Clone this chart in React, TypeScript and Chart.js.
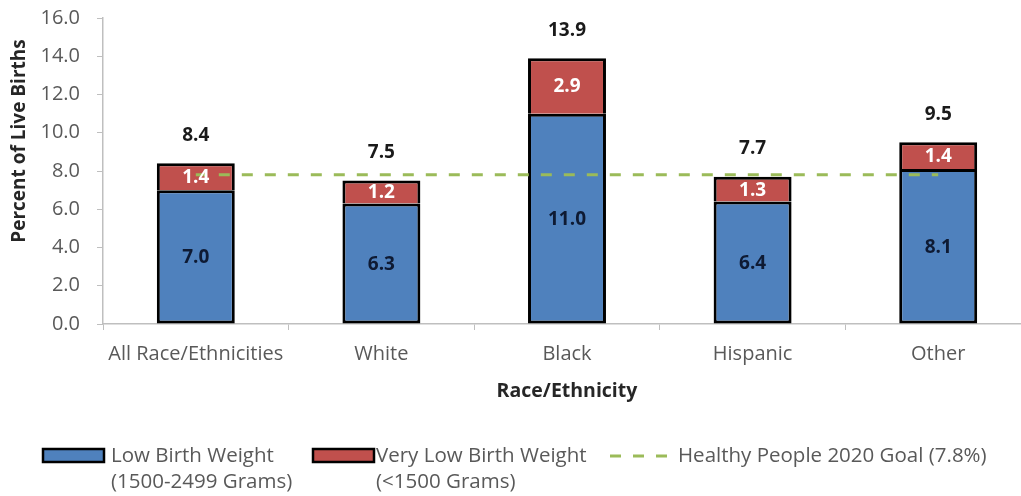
import React, { useEffect, useRef } from "react";
import { Chart, registerables } from "chart.js";

Chart.register(...registerables);

const categories = ["All Race/Ethnicities", "White", "Black", "Hispanic", "Other"];
const lowBirthWeight = [7.0, 6.3, 11.0, 6.4, 8.1];
const veryLowBirthWeight = [1.4, 1.2, 2.9, 1.3, 1.4];
const totals = [8.4, 7.5, 13.9, 7.7, 9.5];
const goal = [7.8, 7.8, 7.8, 7.8, 7.8];
const yTicks = [0, 2, 4, 6, 8, 10, 12, 14, 16];

const FONT = "'Open Sans', 'Noto Sans', sans-serif";
const BLUE = "#4F81BD";
const RED = "#C0504D";
const GREEN = "#9BBB59";
const AXIS = "#BFBFBF";

const labelsPlugin = {
  id: "barLabels",
  afterDatasetsDraw(chart: any) {
    const ctx = chart.ctx;
    const m0 = chart.getDatasetMeta(0);
    const m1 = chart.getDatasetMeta(1);
    ctx.save();
    ctx.textAlign = "center";
    ctx.textBaseline = "middle";
    ctx.font = `bold 19px ${FONT}`;
    m0.data.forEach((bar: any, i: number) => {
      const p = bar.getProps(["x", "y", "base"], true);
      ctx.fillStyle = "#0E1A33";
      ctx.fillText(lowBirthWeight[i].toFixed(1), p.x, (p.y + p.base) / 2 + 1);
    });
    m1.data.forEach((bar: any, i: number) => {
      const p = bar.getProps(["x", "y", "base"], true);
      ctx.fillStyle = "#FFFFFF";
      ctx.fillText(veryLowBirthWeight[i].toFixed(1), p.x, (p.y + p.base) / 2 + 1);
      ctx.fillStyle = "#1A1A1A";
      ctx.fillText(totals[i].toFixed(1), p.x, chart.scales.y.getPixelForValue(totals[i]) - 28);
    });
    ctx.restore();
  },
};

const legendPlugin = {
  id: "customLegend",
  afterDraw(chart: any) {
    const ctx = chart.ctx;
    ctx.save();
    // y axis title
    ctx.save();
    ctx.translate(19.5, 141);
    ctx.rotate(-Math.PI / 2);
    ctx.font = `bold 19px ${FONT}`;
    ctx.fillStyle = "#262626";
    ctx.textAlign = "center";
    ctx.textBaseline = "middle";
    ctx.fillText("Percent of Live Births", 0, 0);
    ctx.restore();

    ctx.font = `20.5px ${FONT}`;
    ctx.textAlign = "left";
    ctx.textBaseline = "middle";
    const y1 = 456;
    const y2 = 482;
    const box = (x: number, color: string) => {
      ctx.fillStyle = color;
      ctx.fillRect(x, y1 - 7, 61, 13);
      ctx.strokeStyle = "#000000";
      ctx.lineWidth = 2.5;
      ctx.strokeRect(x, y1 - 7, 61, 13);
    };
    box(43, chart.data.datasets[0].backgroundColor);
    box(313, chart.data.datasets[1].backgroundColor);
    ctx.fillStyle = "#595959";
    ctx.fillText("Low Birth Weight", 111, y1);
    ctx.fillText("(1500-2499 Grams)", 111, y2);
    ctx.fillText("Very Low Birth Weight", 376, y1);
    ctx.fillText("(<1500 Grams)", 376, y2);
    ctx.strokeStyle = chart.data.datasets[2].borderColor;
    ctx.lineWidth = 3;
    ctx.setLineDash([11, 12]);
    ctx.beginPath();
    ctx.moveTo(610, y1);
    ctx.lineTo(673, y1);
    ctx.stroke();
    ctx.setLineDash([]);
    ctx.fillStyle = "#595959";
    ctx.fillText("Healthy People 2020 Goal (7.8%)", 678, y1);
    ctx.restore();
  },
};

export default function App() {
  const ref = useRef<HTMLCanvasElement>(null);
  useEffect(() => {
    if (!ref.current) return;
    const chart = new Chart(ref.current, {
      type: "bar",
      data: {
        labels: categories,
        datasets: [
          {
            type: "bar",
            label: "Low Birth Weight (1500-2499 Grams)",
            data: lowBirthWeight,
            backgroundColor: BLUE,
            borderColor: "#000000",
            borderWidth: 3,
            borderSkipped: false,
            barPercentage: 0.42,
            categoryPercentage: 1,
            order: 1,
          },
          {
            type: "bar",
            label: "Very Low Birth Weight (<1500 Grams)",
            data: veryLowBirthWeight,
            backgroundColor: RED,
            borderColor: "#000000",
            borderWidth: 3,
            borderSkipped: "bottom",
            barPercentage: 0.42,
            categoryPercentage: 1,
            order: 1,
          },
          {
            type: "line",
            label: "Healthy People 2020 Goal (7.8%)",
            data: goal,
            borderColor: GREEN,
            borderWidth: 3,
            borderDash: [11, 12],
            pointRadius: 0,
            fill: false,
            stack: "goal",
            order: 0,
          } as any,
        ],
      },
      options: {
        responsive: false,
        animation: false,
        devicePixelRatio: 1,
        layout: { padding: { left: 0, right: 9, top: 18, bottom: 72 } },
        plugins: { legend: { display: false }, tooltip: { enabled: false } },
        scales: {
          x: {
            stacked: true,
            afterFit: (axis: any) => {
              axis.height = 100;
              axis.paddingLeft = 0;
              axis.paddingRight = 0;
            },
            grid: {
              display: true,
              drawOnChartArea: false,
              drawTicks: true,
              tickLength: 6,
              color: AXIS,
              offset: true,
            },
            border: { display: true, color: AXIS, width: 1.5 },
            ticks: { color: "#595959", font: { family: FONT, size: 20 }, padding: 12 },
            title: {
              display: true,
              text: "Race/Ethnicity",
              color: "#262626",
              font: { family: FONT, size: 19.5, weight: "bold" },
              padding: { top: 0, bottom: 21 },
            },
          },
          y: {
            stacked: true,
            min: 0,
            max: 16,
            afterFit: (axis: any) => {
              axis.width = 103;
              axis.paddingTop = 0;
              axis.paddingBottom = 0;
            },
            afterBuildTicks: (axis: any) => {
              axis.ticks = yTicks.map((v) => ({ value: v }));
            },
            grid: {
              display: true,
              drawOnChartArea: false,
              drawTicks: true,
              tickLength: 6,
              color: AXIS,
            },
            border: { display: true, color: AXIS, width: 1.5 },
            ticks: {
              color: "#595959",
              font: { family: FONT, size: 20 },
              padding: 17,
              callback: (v: any) => Number(v).toFixed(1),
            },
            title: { display: false },
          },
        },
      },
      plugins: [labelsPlugin, legendPlugin],
    });
    return () => chart.destroy();
  }, []);
  return (
    <div
      style={{
        position: "absolute",
        left: 0,
        top: 0,
        width: 1021,
        height: 496,
        overflow: "hidden",
        background: "#FFFFFF",
      }}
    >
      <canvas ref={ref} width={1040} height={496} style={{ display: "block" }} />
    </div>
  );
}
